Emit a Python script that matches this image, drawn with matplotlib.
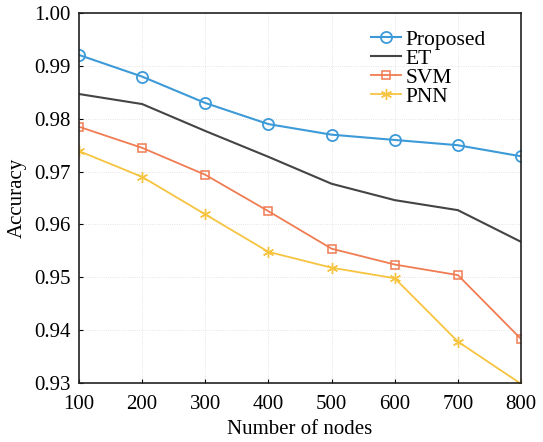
import matplotlib
matplotlib.use("Agg")
import matplotlib.pyplot as plt

nodes = [100, 200, 300, 400, 500, 600, 700, 800]
proposed = [0.9921, 0.9880, 0.9830, 0.9790, 0.9770, 0.9760, 0.9750, 0.9729]
et = [0.9847, 0.9828, 0.9777, 0.9728, 0.9677, 0.9646, 0.9627, 0.9567]
svm = [0.9785, 0.9745, 0.9694, 0.9625, 0.9554, 0.9524, 0.9504, 0.9383]
pnn = [0.9739, 0.9690, 0.9619, 0.9548, 0.9518, 0.9498, 0.9378, 0.9298]
y_ticks = [0.93, 0.94, 0.95, 0.96, 0.97, 0.98, 0.99, 1.00]

plt.rcParams["font.family"] = ["Liberation Serif", "DejaVu Serif"]

fig = plt.figure(figsize=(5.43, 4.42), dpi=100)
ax = fig.add_axes([0.1455, 0.134, 0.814, 0.836])

ax.plot(nodes, proposed, color="#3d9ad8", marker="o", markersize=8,
        markerfacecolor="none", markeredgewidth=1.3, linewidth=1.5, label="Proposed")
ax.plot(nodes, et, color="#444444", linewidth=1.5, label="ET")
ax.plot(nodes, svm, color="#ef7c52", marker="s", markersize=6,
        markerfacecolor="none", markeredgewidth=1.1, linewidth=1.3, label="SVM")
ax.plot(nodes, pnn, color="#f6c440", marker=(6, 2, 0), markersize=8,
        markeredgewidth=1.0, linewidth=1.3, label="PNN")

ax.set_xlim(100, 800)
ax.set_ylim(0.93, 1.00)
ax.set_xticks(nodes)
ax.set_yticks(y_ticks)
ax.set_yticklabels([f"{v:.2f}" for v in y_ticks])
ax.tick_params(direction="in", length=3, labelsize=15, top=False, right=False)
ax.tick_params(axis="x", pad=9)
ax.tick_params(axis="y", pad=6)
ax.grid(True, linestyle=":", color="#dddddd", linewidth=0.6)
for spine in ax.spines.values():
    spine.set_linewidth(1.2)
    spine.set_color("#222222")

ax.set_xlabel("Number of nodes", fontsize=15, labelpad=4)
ax.set_ylabel("Accuracy", fontsize=15, labelpad=5)

ax.legend(loc="upper right", bbox_to_anchor=(0.95, 0.99), frameon=False,
          fontsize=15.5, handlelength=1.4, handletextpad=0.2, labelspacing=-0.05,
          borderaxespad=0.2)

fig.savefig("out.png", dpi=100)
plt.close(fig)
